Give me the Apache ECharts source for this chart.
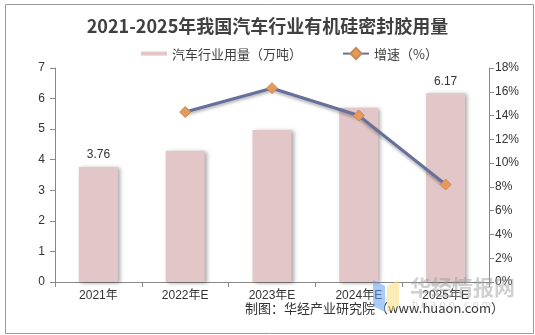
<!DOCTYPE html>
<html><head><meta charset="utf-8">
<script src="https://cdn.jsdelivr.net/npm/echarts@6/dist/echarts.min.js"></script>
<style>html,body{margin:0;padding:0;background:#fff}#c{width:535px;height:335px}</style>
</head><body><div id="c"></div>
<script>
const categories = ['2021年','2022年E','2023年E','2024年E','2025年E'];
const usage = [3.76, 4.29, 4.97, 5.70, 6.17];
const growth = [null, 14.3, 16.3, 14.0, 8.2];
const labeledIdx = [0, 4];

const chart = echarts.init(document.getElementById('c'), null, {renderer:'canvas'});
const font = 'Arial, "Liberation Sans", "Noto Sans CJK SC", sans-serif';
chart.setOption({
  animation: false,
  backgroundColor: '#fff',
  title: {
    text: '2021-2025年我国汽车行业有机硅密封胶用量',
    left: 'center', top: 12,
    textStyle: {fontFamily: '"Noto Sans CJK SC", serif', fontSize: 18, fontWeight: 'bold', color: '#404040'}
  },
  legend: {
    top: 42, left: 136, itemGap: 40, itemWidth: 26, itemHeight: 14,
    textStyle: {fontFamily: '"Noto Sans CJK SC", sans-serif', fontSize: 13, color: '#404040'},
    data: [
      {name: '汽车行业用量（万吨）', icon: 'path://M0,5 L26,5 L26,9 L0,9 Z'},
      {name: '增速（%）'}
    ]
  },
  grid: {left: 55, right: 46, top: 68, bottom: 53},
  xAxis: {
    type: 'category', data: categories,
    axisLine: {lineStyle: {color: '#888'}},
    axisTick: {show: true, alignWithLabel: false, lineStyle: {color: '#888'}},
    axisLabel: {fontFamily: font, fontSize: 12, color: '#333', margin: 8}
  },
  yAxis: [
    {type: 'value', min: 0, max: 7, interval: 1,
     axisLine: {show: true, lineStyle: {color: '#888'}},
     axisTick: {show: true, lineStyle: {color: '#888'}},
     splitLine: {show: false},
     axisLabel: {fontFamily: font, fontSize: 12, color: '#333', margin: 10}},
    {type: 'value', min: 0, max: 18, interval: 2,
     axisLine: {show: true, lineStyle: {color: '#888'}},
     axisTick: {show: true, lineStyle: {color: '#888'}},
     splitLine: {show: false},
     axisLabel: {fontFamily: font, fontSize: 12, color: '#333', margin: 6, formatter: '{value}%'}}
  ],
  series: [
    {name: '汽车行业用量（万吨）', type: 'bar', barWidth: 39,
     itemStyle: {color: '#e2c6c8', shadowColor: 'rgba(0,0,0,0.35)', shadowBlur: 4, shadowOffsetX: 2, shadowOffsetY: 1},
     data: usage.map((v, i) => ({value: v, label: {show: labeledIdx.includes(i), position: 'top', distance: 6,
       fontFamily: font, fontSize: 12, color: '#333', formatter: p => p.value.toFixed(2)}}))},
    {name: '增速（%）', type: 'line', yAxisIndex: 1,
     symbol: 'diamond', symbolSize: 11,
     lineStyle: {color: '#66709a', width: 3, shadowColor: 'rgba(0,0,0,0.3)', shadowBlur: 3, shadowOffsetY: 2},
     itemStyle: {color: '#e4995d', borderColor: '#c98a55', borderWidth: 1},
     data: growth}
  ],
  color: ['#e2c6c8', '#66709a'],
  graphic: [
    {type: 'rect', left: 3, top: 2, shape: {width: 528, height: 329}, style: {fill: 'none', stroke: '#999', lineWidth: 1}},
    {type: 'polygon', shape: {points: [[373,280],[385,286],[385,312],[373,306]]}, style: {fill: 'rgba(100,160,240,0.55)'}, z: 10},
    {type: 'polygon', shape: {points: [[387,286],[399,280],[399,306],[387,312]]}, style: {fill: 'rgba(250,220,120,0.55)'}, z: 10},
    {type: 'text', left: 410, top: 277, style: {text: '华经情报网', fontFamily: '"Noto Sans CJK SC"', fontSize: 21, fontWeight: 'bold', fill: 'rgba(150,150,150,0.45)'}, z: 10},
    {type: 'text', left: 412, top: 299, style: {text: 'h u a o n . c o m', fontFamily: font, fontSize: 11, fill: 'rgba(170,170,170,0.45)'}, z: 10},
    {type: 'text', right: 31, top: 302, style: {text: '制图：华经产业研究院（www.huaon.com）', fontFamily: '"Noto Sans CJK SC", sans-serif', fontSize: 13, fill: '#333'}}
  ]
});
</script></body></html>
